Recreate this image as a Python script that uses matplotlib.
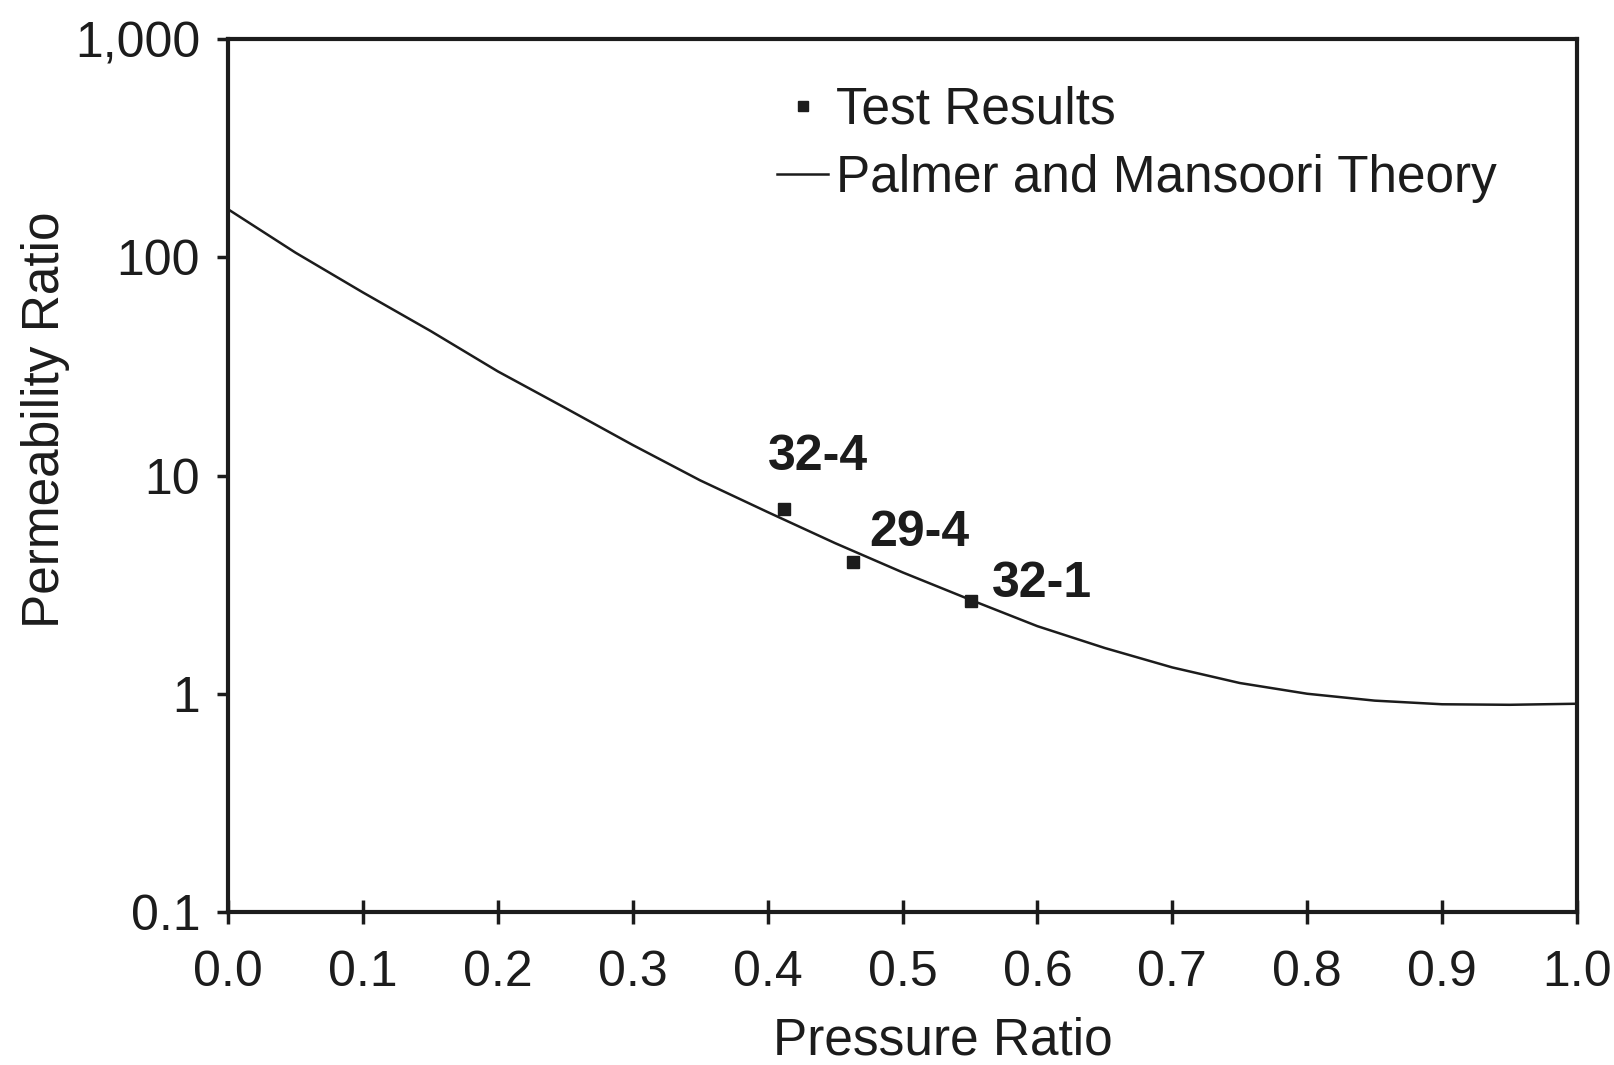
import numpy as np
import matplotlib
matplotlib.use("Agg")
import matplotlib.pyplot as plt
from matplotlib.ticker import FixedLocator, FixedFormatter, NullLocator

plt.rcParams['font.family'] = ['Liberation Sans', 'DejaVu Sans']

# Palmer and Mansoori theory curve
theory_x = [0.00, 0.05, 0.10, 0.15, 0.20, 0.25, 0.30, 0.35, 0.40, 0.45, 0.50,
            0.55, 0.60, 0.65, 0.70, 0.75, 0.80, 0.85, 0.90, 0.95, 1.00]
theory_y = [166, 105, 69, 46, 30, 20.4, 13.8, 9.5, 6.8, 4.9, 3.6,
            2.7, 2.04, 1.62, 1.32, 1.12, 1.0, 0.93, 0.895, 0.89, 0.90]

# test results
test_names = ["32-4", "29-4", "32-1"]
test_x = [0.412, 0.463, 0.551]
test_y = [7.0, 4.0, 2.65]

x_ticks = [0.0, 0.1, 0.2, 0.3, 0.4, 0.5, 0.6, 0.7, 0.8, 0.9, 1.0]
y_ticks = [0.1, 1, 10, 100, 1000]
y_tick_labels = ["0.1", "1", "10", "100", "1,000"]

ink = '#1c1c1c'

fig = plt.figure(figsize=(16.14, 10.65), dpi=100)
ax = fig.add_axes([228 / 1614, 1 - 912 / 1065, 1349 / 1614, 873 / 1065])

ax.set_yscale('log')
ax.set_xlim(0, 1)
ax.set_ylim(0.1, 1000)

line, = ax.plot(theory_x, theory_y, color=ink, lw=1.8,
                label='Palmer and Mansoori Theory')
pts, = ax.plot(test_x, test_y, 's', color=ink, ms=9, label='Test Results')

# labels next to the points
label_off = [(-0.012, 1.52), (0.012, 1.19), (0.015, 1.05)]
for name, px, py, (dx, fy) in zip(test_names, test_x, test_y, label_off):
    ax.text(px + dx, py * fy, name, fontsize=36, fontweight='bold',
            color=ink, ha='left', va='baseline')

ax.xaxis.set_major_locator(FixedLocator(x_ticks))
ax.set_xticklabels([f"{v:.1f}" for v in x_ticks])
ax.yaxis.set_major_locator(FixedLocator(y_ticks))
ax.yaxis.set_major_formatter(FixedFormatter(y_tick_labels))
ax.yaxis.set_minor_locator(NullLocator())

ax.tick_params(axis='x', direction='inout', length=17, width=2.5,
               pad=18.5, labelsize=36, colors=ink, top=False)
ax.tick_params(axis='y', direction='out', length=8, width=2.5,
               pad=12, labelsize=36, colors=ink, right=False)

for s in ax.spines.values():
    s.set_linewidth(3)
    s.set_color(ink)

ax.set_xlabel('Pressure Ratio', fontsize=37, color=ink)
ax.set_ylabel('Permeability Ratio', fontsize=37, color=ink)
ax.xaxis.set_label_coords(0.530, -0.1192)
ax.yaxis.set_label_coords(-0.117, 0.5636)

leg = ax.legend(handles=[pts, line], loc='upper left',
                bbox_to_anchor=(777 / 1614, 1 - 86 / 1065),
                bbox_transform=fig.transFigure, frameon=False,
                fontsize=37, handlelength=1.0, handletextpad=0.15,
                labelspacing=0.37, borderpad=0, borderaxespad=0,
                markerscale=0.8)
for t in leg.get_texts():
    t.set_color(ink)

fig.savefig('out.png', dpi=100)
